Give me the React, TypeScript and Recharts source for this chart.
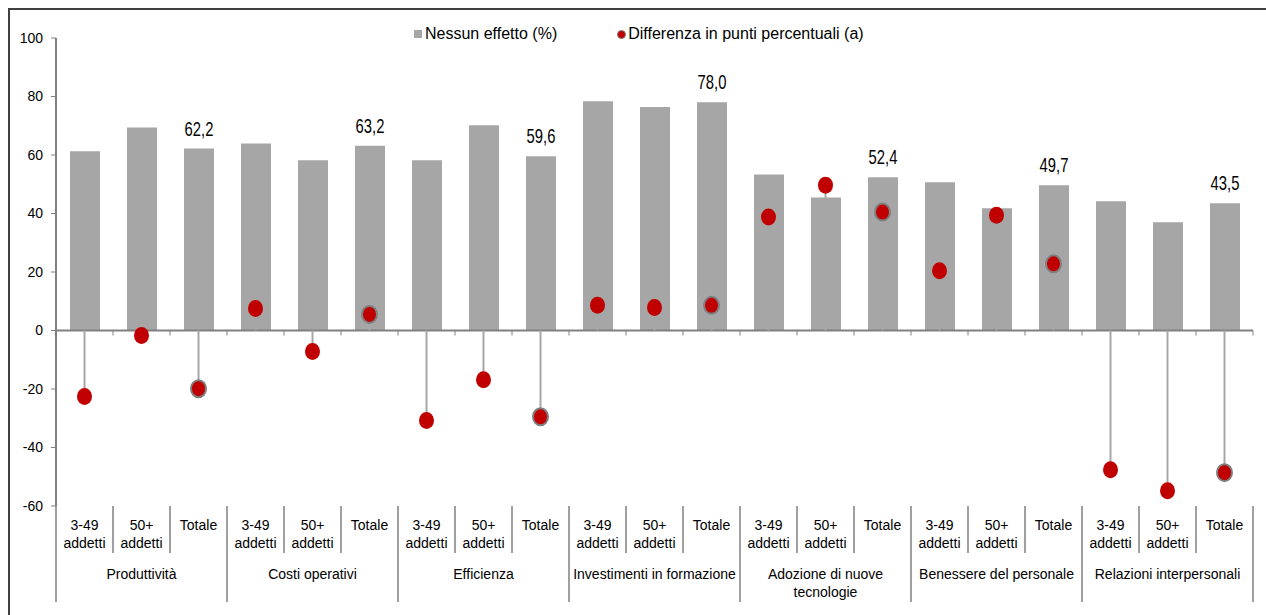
import {
  ComposedChart,
  Bar,
  Scatter,
  ErrorBar,
  XAxis,
  YAxis,
  ReferenceLine,
  LabelList,
} from "recharts";

// Categories
const groups = [
  "Produttività",
  "Costi operativi",
  "Efficienza",
  "Investimenti in formazione",
  "Adozione di nuove tecnologie",
  "Benessere del personale",
  "Relazioni interpersonali",
];
const subs = ["3-49 addetti", "50+ addetti", "Totale"];

// Series values
const nessunEffetto = [
  61.3, 69.4, 62.2, 63.9, 58.2, 63.2, 58.2, 70.2, 59.6, 78.4, 76.4, 78.0,
  53.3, 45.5, 52.4, 50.7, 41.8, 49.7, 44.2, 37.0, 43.5,
];
const differenza = [
  -22.6, -1.7, -19.9, 7.5, -7.2, 5.5, -30.8, -16.8, -29.5, 8.6, 7.9, 8.6,
  38.8, 49.7, 40.5, 20.4, 39.4, 22.8, -47.6, -54.8, -48.6,
];
const yTicks = [-60, -40, -20, 0, 20, 40, 60, 80, 100];

const rows = groups.flatMap((g, gi) =>
  subs.map((s, si) => {
    const i = gi * subs.length + si;
    return {
      idx: i,
      group: g,
      sub: s,
      nessun: nessunEffetto[i],
      diff: differenza[i],
    };
  })
);

const W = 1256;
const H = 596;
const MARGIN = { top: 28, right: 13, left: 0, bottom: 0 };
const Y_W = 46;
const BAND = (W - MARGIN.left - MARGIN.right - Y_W) / rows.length;

const GRAY = "#a6a6a6";
const AXIS = "#808080";
const RED = "#c00000";
const FONT = "'Liberation Sans', Arial, sans-serif";

function wrap(text: string, max: number) {
  const out: string[] = [];
  let cur = "";
  text.split(" ").forEach((w) => {
    const next = cur ? cur + " " + w : w;
    if (next.length > max && cur) {
      out.push(cur);
      cur = w;
    } else cur = next;
  });
  if (cur) out.push(cur);
  return out;
}

function CategoryTick(props: any) {
  const { x, y, payload } = props;
  const row = rows[Number(payload.value)];
  if (!row) return null;
  const si = row.idx % subs.length;
  const lastInGroup = si === subs.length - 1;
  const subLines = row.sub.split(" ");
  const groupLines = wrap(row.group, 26);
  return (
    <g>
      {subLines.map((t, k) => (
        <text
          key={k}
          x={x}
          y={y + 24 + k * 18}
          textAnchor="middle"
          fontSize={14}
          fontFamily={FONT}
          fill="#000"
        >
          {t}
        </text>
      ))}
      {si === 1 &&
        groupLines.map((t, k) => (
          <text
            key={"g" + k}
            x={x}
            y={y + 73 + k * 18}
            textAnchor="middle"
            fontSize={14}
            fontFamily={FONT}
            fill="#000"
          >
            {t}
          </text>
        ))}
      <line
        x1={x + BAND / 2}
        x2={x + BAND / 2}
        y1={y}
        y2={y + (lastInGroup ? 96 : 47)}
        stroke={AXIS}
        strokeWidth={1.5}
      />
      {row.idx === 0 && (
        <line
          x1={x - BAND / 2}
          x2={x - BAND / 2}
          y1={y}
          y2={y + 96}
          stroke={AXIS}
          strokeWidth={1.5}
        />
      )}
    </g>
  );
}

function ZeroLine(props: any) {
  const { x1, x2, y1 } = props;
  const step = (x2 - x1) / rows.length;
  return (
    <g>
      <line x1={x1} x2={x2} y1={y1} y2={y1} stroke={AXIS} strokeWidth={2} />
      {rows.map((r, k) => (
        <line
          key={r.idx}
          x1={x1 + (k + 1) * step}
          x2={x1 + (k + 1) * step}
          y1={y1}
          y2={y1 + 5}
          stroke={AXIS}
          strokeWidth={1}
        />
      ))}
    </g>
  );
}

function Dot(props: any) {
  const { cx, cy, payload } = props;
  const isTot = payload && payload.sub === "Totale";
  return (
    <ellipse
      cx={cx}
      cy={cy}
      rx={7.5}
      ry={8.5}
      fill={RED}
      stroke={isTot ? "#7f7f7f" : "none"}
      strokeWidth={isTot ? 2 : 0}
    />
  );
}

function TotLabel(props: any) {
  const { x, y, width, value, index } = props;
  if (rows[index]?.sub !== "Totale") return null;
  const cx = x + width / 2;
  // condensed look, like the narrow font of the original
  return (
    <text
      x={0}
      y={0}
      transform={`translate(${cx},${y - 13}) scale(0.74,1)`}
      textAnchor="middle"
      fontSize={20}
      fontFamily={FONT}
      fill="#000"
    >
      {Number(value).toFixed(1).replace(".", ",")}
    </text>
  );
}

export default function App() {
  return (
    <div
      style={{
        position: "relative",
        width: 1258,
        height: 607,
        margin: "8px 0 0 8px",
        boxSizing: "border-box",
        borderTop: "2px solid #404040",
        borderLeft: "2px solid #404040",
        fontFamily: FONT,
        background: "#fff",
        overflow: "hidden",
      }}
    >
      <style>{"html{overflow:hidden}body{margin:0}"}</style>
      <div
        style={{
          position: "absolute",
          left: 404,
          top: 15,
          display: "flex",
          alignItems: "center",
          fontSize: 16,
          color: "#000",
          whiteSpace: "nowrap",
        }}
      >
        <span style={{ width: 8, height: 8, background: GRAY, marginRight: 3 }} />
        <span>Nessun effetto (%)</span>
        <span
          style={{
            width: 7,
            height: 7,
            borderRadius: "50%",
            background: RED,
            border: "1px solid #7f7f7f",
            marginLeft: 60,
            marginRight: 2,
          }}
        />
        <span>Differenza in punti percentuali (a)</span>
      </div>
      <ComposedChart width={W} height={H} data={rows} margin={MARGIN}>
        <XAxis
          dataKey="idx"
          type="category"
          height={100}
          axisLine={false}
          tickLine={false}
          tickSize={0}
          tickMargin={0}
          interval={0}
          tick={<CategoryTick />}
        />
        <YAxis
          type="number"
          domain={[-60, 100]}
          ticks={yTicks}
          width={Y_W}
          axisLine={{ stroke: AXIS, strokeWidth: 2 }}
          tickLine={{ stroke: AXIS }}
          tickSize={5}
          tickMargin={8}
          tick={{ fontSize: 14, fontFamily: FONT, fill: "#000" }}
        />
        <Bar
          dataKey="nessun"
          fill={GRAY}
          barSize={30}
          isAnimationActive={false}
        >
          <LabelList dataKey="nessun" content={<TotLabel />} />
        </Bar>
        <ReferenceLine y={0} shape={<ZeroLine />} />
        <Scatter dataKey="diff" shape={<Dot />} isAnimationActive={false}>
          <ErrorBar
            dataKey={(d: any) => (d.diff >= 0 ? [d.diff, 0] : [0, -d.diff])}
            direction="y"
            width={0}
            stroke={GRAY}
            strokeWidth={2}
            isAnimationActive={false}
          />
        </Scatter>
      </ComposedChart>
    </div>
  );
}
